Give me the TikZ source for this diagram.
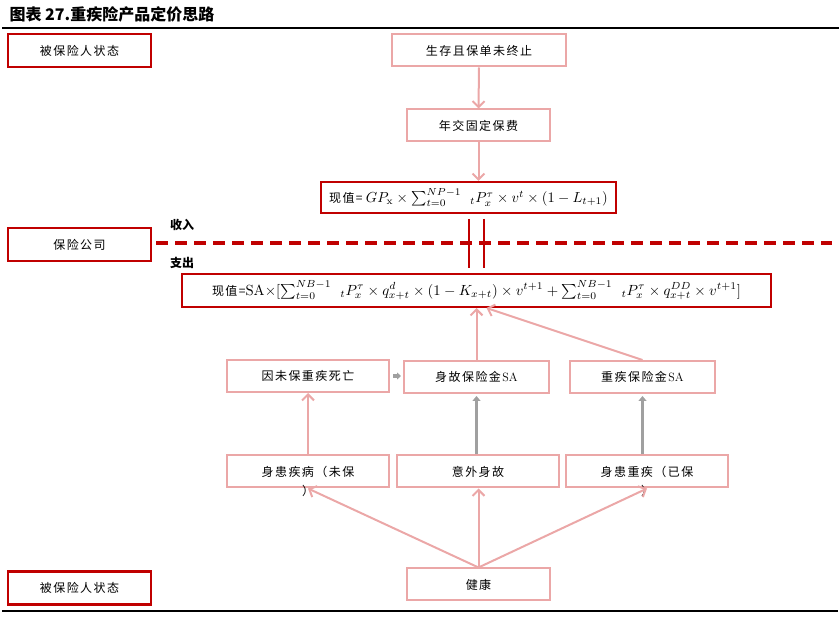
\documentclass[tikz,border=0pt]{standalone}
\usepackage{amsmath}
\usepackage{amssymb}
\usepackage{graphicx}
\usepackage{fontspec}
\newfontfamily\cjk[LetterSpace=12]{Noto Sans CJK SC}
\newfontfamily\cjktitle{Noto Sans CJK SC}
\usepackage{tikz}
\usetikzlibrary{arrows.meta}
\usepackage{xcolor}
\definecolor{darkred}{HTML}{C00000}
\definecolor{lightred}{HTML}{EBA7A7}
\definecolor{arrowgray}{HTML}{A0A0A0}
\tikzset{
  redbox/.style={draw=darkred, line width=2.5pt, minimum width=143, minimum height=33,
    inner sep=0pt, font=\cjk\fontsize{12}{14}\selectfont},
  pinkbox/.style={draw=lightred, line width=2pt, minimum height=32,
    inner sep=0pt, font=\cjk\fontsize{12}{14}\selectfont},
  formbox/.style={draw=darkred, line width=2pt, minimum height=31,
    inner sep=0pt, font=\normalsize},
  pinkarrow/.style={draw=lightred, line width=2pt, -{Straight Barb[length=6pt,width=12pt]}},
  grayarrow/.style={draw=arrowgray, line width=3pt, -{Triangle[length=5pt,width=8pt]}},
}
\newcommand\pvword{{\cjk\fontsize{12}{14}\selectfont 现值=}}

\begin{document}
\begin{tikzpicture}[x=1pt, y=-1pt]
  \useasboundingbox (0,0) rectangle (839,617);
  % title and rules
  \node[anchor=west, font=\cjktitle\bfseries\fontsize{16}{18}\selectfont] (title) at (6,14) {图表 27.重疾险产品定价思路};
  \draw[black, line width=1.5pt] (2,28) -- (839,28);
  \draw[black, line width=1.5pt] (2,611) -- (838,611);

  % left column
  \node[redbox] (ins1) at (79.5,50.5) {被保险人状态};
  \node[redbox] (comp) at (79.5,244.5) {保险公司};
  \node[redbox] (ins2) at (79.5,588) {被保险人状态};

  % income side
  \node[pinkbox, minimum width=174] (alive) at (479,50.5) {生存且保单未终止};
  \node[pinkbox, minimum width=143] (prem) at (478.5,125.5) {年交固定保费};
  \node[formbox, minimum width=295] (pvin) at (468.5,197.5)
    {\pvword\ \scalebox{1.45}{$GP_{\mathrm{x}}\times\sum_{t=0}^{NP-1}\;\,{}_tP_x^{\tau}\times v^t\times(1-L_{t+1})$}};
  \draw[pinkarrow] (alive.south) -- (prem.north);
  \draw[pinkarrow] (prem.south) -- (prem.south |- pvin.north);

  % split line
  \node[font=\cjktitle\bfseries\fontsize{12}{14}\selectfont] (inlab) at (182,225) {收入};
  \node[font=\cjktitle\bfseries\fontsize{12}{14}\selectfont] (outlab) at (182,263) {支出};
  \coordinate (dashend) at (832,243);
  \draw[darkred, line width=4pt, dash pattern=on 12pt off 7pt] ([xshift=4pt]comp.east |- dashend) -- (dashend);
  \coordinate (barA) at (469,219);
  \coordinate (barB) at (484,219);
  \draw[darkred, line width=2.5pt] (barA) -- (barA |- 0,268);
  \draw[darkred, line width=2.5pt] (barB) -- (barB |- 0,268);

  % outgo side
  \node[formbox, minimum width=589, minimum height=33] (pvout) at (476.5,290.5)
    {\pvword\scalebox{1.47}{SA$\times[\sum_{t=0}^{NB-1}\;\,{}_tP_x^{\tau}\times q_{x+t}^{d}\times(1-K_{x+t})\times v^{t+1}+\sum_{t=0}^{NB-1}\;\,{}_tP_x^{\tau}\times q_{x+t}^{DD}\times v^{t+1}]$}};

  \node[pinkbox, minimum width=162] (nodeath) at (308,376) {因未保重疾死亡};
  \node[pinkbox, minimum width=145] (deathsa) at (476.5,377) {身故保险金\textrm{SA}};
  \node[pinkbox, minimum width=145] (cisa) at (642.5,377) {重疾保险金\textrm{SA}};

  \node[pinkbox, minimum width=162] (ill) at (308,471.5) {身患疾病（未保};
  \node[pinkbox, minimum width=162] (acc) at (478,471.5) {意外身故};
  \node[pinkbox, minimum width=162] (ci) at (647,471.5) {身患重疾（已保};
  \node[font=\cjk\fontsize{12}{14}\selectfont] (illend) at ([yshift=-2pt]ill.south) {）};
  \node[font=\cjk\fontsize{12}{14}\selectfont] (ciend) at ([yshift=-2pt]ci.south) {）};

  \node[pinkbox, minimum width=143] (health) at (478.5,584.5) {健康};

  % arrows
  \draw[pinkarrow] (health.north) -- (ill.south);
  \draw[pinkarrow] (health.north) -- (health.north |- acc.south);
  \draw[pinkarrow] (health.north) -- (ci.south);
  \draw[pinkarrow] (ill.north) -- (nodeath.south);
  \draw[grayarrow] (acc.north -| deathsa.south) -- ([yshift=-2pt]deathsa.south);
  \draw[grayarrow] (ci.north -| cisa.south) -- ([yshift=-2pt]cisa.south);
  \draw[arrowgray, line width=3.5pt, -{Triangle[length=4pt,width=7pt]}] ([xshift=3pt]nodeath.east) -- ([xshift=-2pt]deathsa.west |- nodeath.east);
  \draw[pinkarrow] (deathsa.north) -- (pvout.south -| deathsa.north);
  \draw[pinkarrow] (cisa.north) -- ([xshift=10pt]pvout.south);
\end{tikzpicture}
\end{document}
